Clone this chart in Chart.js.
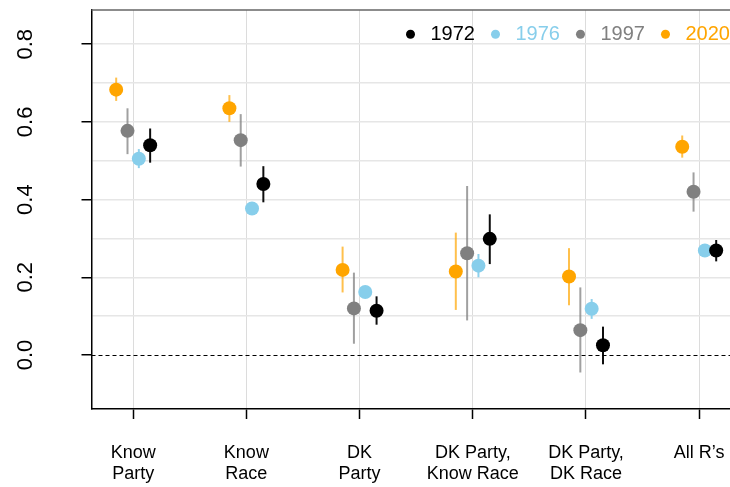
<!DOCTYPE html>
<html>
<head>
<meta charset="utf-8">
<script src="https://cdn.jsdelivr.net/npm/chart.js@4.4.1/dist/chart.umd.min.js"></script>
<style>
  html, body { margin: 0; padding: 0; background: #ffffff; overflow: hidden; }
  canvas { display: block; }
</style>
</head>
<body>
<canvas id="chart" width="730" height="487"></canvas>
<script>
// Groups of respondents along the x axis (two-line labels)
const categories = [
  ["Know", "Party"],
  ["Know", "Race"],
  ["DK", "Party"],
  ["DK Party,", "Know Race"],
  ["DK Party,", "DK Race"],
  ["All R’s"]
];

// Survey years, their colours and horizontal dodge within a group
const years = ["1972", "1976", "1997", "2020"];
const yearColors = ["#000000", "#87CEEB", "#808080", "#FFA500"];
const intervalColors = ["rgba(0,0,0,0.95)", "rgba(135,206,235,0.95)", "rgba(128,128,128,0.75)", "rgba(255,165,0,0.7)"];
const dodge = [0.15, 0.05, -0.05, -0.15];

// Point estimates and interval bounds, one value per group
const est1972 = [0.540, 0.440, 0.114, 0.299, 0.025, 0.269];
const low1972 = [0.495, 0.393, 0.078, 0.234, -0.024, 0.241];
const high1972 = [0.583, 0.486, 0.151, 0.362, 0.073, 0.296];

const est1976 = [0.505, 0.377, 0.162, 0.230, 0.119, 0.269];
const low1976 = [0.481, 0.362, 0.147, 0.200, 0.093, 0.257];
const high1976 = [0.530, 0.392, 0.177, 0.260, 0.144, 0.281];

const est1997 = [0.577, 0.553, 0.120, 0.262, 0.064, 0.420];
const low1997 = [0.517, 0.485, 0.029, 0.089, -0.045, 0.369];
const high1997 = [0.635, 0.620, 0.212, 0.435, 0.174, 0.470];

const est2020 = [0.683, 0.635, 0.219, 0.215, 0.202, 0.536];
const low2020 = [0.654, 0.600, 0.161, 0.116, 0.128, 0.508];
const high2020 = [0.714, 0.669, 0.279, 0.315, 0.275, 0.565];

const estimates = [est1972, est1976, est1997, est2020];
const lows = [low1972, low1976, low1997, low2020];
const highs = [high1972, high1976, high1997, high2020];

// Y axis: light grid every 0.1, labelled ticks every 0.2
const yGridValues = [0.0, 0.1, 0.2, 0.3, 0.4, 0.5, 0.6, 0.7, 0.8];
const yTickValues = [0.0, 0.2, 0.4, 0.6, 0.8];
const yTickLabels = ["0.0", "0.2", "0.4", "0.6", "0.8"];

const FONT = '"Liberation Sans", Arial, Helvetica, sans-serif';
Chart.defaults.font.family = FONT;

const isLabelled = v => yTickValues.some(t => Math.abs(t - v) < 1e-9);

// Vertical interval segments behind the points
const intervalPlugin = {
  id: 'intervals',
  beforeDatasetsDraw(chart) {
    const { ctx, scales: { x, y }, chartArea } = chart;
    ctx.save();
    // dashed reference line at zero
    ctx.strokeStyle = '#000';
    ctx.lineWidth = 1;
    ctx.setLineDash([4, 3]);
    const y0 = Math.round(y.getPixelForValue(0)) + 0.5;
    ctx.beginPath();
    ctx.moveTo(chartArea.left, y0);
    ctx.lineTo(chartArea.right, y0);
    ctx.stroke();
    ctx.setLineDash([]);
    // top frame line
    ctx.strokeStyle = '#666';
    ctx.lineWidth = 1.5;
    ctx.beginPath();
    ctx.moveTo(chartArea.left, chartArea.top);
    ctx.lineTo(chartArea.right, chartArea.top);
    ctx.stroke();
    // intervals
    for (let s = chart.data.datasets.length - 1; s >= 0; s--) {
      const ds = chart.data.datasets[s];
      ctx.strokeStyle = ds.intervalColor;
      ctx.lineWidth = 2;
      ds.data.forEach((pt, i) => {
        const px = x.getPixelForValue(pt.x);
        ctx.beginPath();
        ctx.moveTo(px, y.getPixelForValue(ds.lower[i]));
        ctx.lineTo(px, y.getPixelForValue(ds.upper[i]));
        ctx.stroke();
      });
    }
    ctx.restore();
  }
};

// Rotated y tick labels and the in-plot year key
const annotationPlugin = {
  id: 'annotations',
  afterDraw(chart) {
    const { ctx, scales: { y }, chartArea } = chart;
    ctx.save();
    ctx.fillStyle = '#000';
    ctx.font = '22px ' + FONT;
    ctx.textAlign = 'center';
    ctx.textBaseline = 'alphabetic';
    yTickValues.forEach((v, k) => {
      const py = y.getPixelForValue(v);
      ctx.save();
      ctx.translate(chartArea.left - 59.5, py);
      ctx.rotate(-Math.PI / 2);
      ctx.fillText(yTickLabels[k], 0, 0);
      ctx.restore();
    });

    ctx.font = '20px ' + FONT;
    ctx.textAlign = 'left';
    ctx.textBaseline = 'middle';
    let cx = chartArea.left + 319;
    const cy = chartArea.top + 24.3;
    years.forEach((yr, s) => {
      ctx.fillStyle = yearColors[s];
      ctx.beginPath();
      ctx.arc(cx, cy, 4.5, 0, Math.PI * 2);
      ctx.fill();
      ctx.fillText(yr, cx + 20, cy);
      cx += 20 + ctx.measureText(yr).width + 20.5;
    });
    ctx.restore();
  }
};

new Chart(document.getElementById('chart'), {
  type: 'scatter',
  data: {
    datasets: years.map((yr, s) => ({
      label: yr,
      data: estimates[s].map((v, i) => ({ x: i + 1 + dodge[s], y: v })),
      lower: lows[s],
      upper: highs[s],
      intervalColor: intervalColors[s],
      backgroundColor: yearColors[s],
      borderColor: yearColors[s],
      borderWidth: 0,
      pointRadius: 7,
      pointHoverRadius: 7
    }))
  },
  options: {
    responsive: false,
    animation: false,
    devicePixelRatio: 1,
    layout: { autoPadding: false, padding: { top: 10, left: 0, right: 0, bottom: 0 } },
    plugins: {
      legend: { display: false },
      tooltip: { enabled: false }
    },
    scales: {
      x: {
        type: 'linear',
        min: 0.632,
        max: 6.272,
        afterBuildTicks: s => { s.ticks = categories.map((_, i) => ({ value: i + 1 })); },
        afterFit: s => { s.height = 78; s.paddingLeft = 0; s.paddingRight = 0; },
        ticks: {
          callback: (v, i) => categories[i],
          autoSkip: false,
          maxRotation: 0,
          minRotation: 0,
          color: '#000',
          padding: 23,
          font: { size: 18, lineHeight: 1.2 }
        },
        grid: {
          color: '#dcdcdc',
          lineWidth: 1,
          tickLength: 10,
          tickColor: '#000',
          tickWidth: 1.5
        },
        border: { color: '#000', width: 1.5 }
      },
      y: {
        type: 'linear',
        min: -0.139,
        max: 0.888,
        afterBuildTicks: s => { s.ticks = yGridValues.map(v => ({ value: v })); },
        afterFit: s => { s.width = 91.5; s.paddingTop = 0; s.paddingBottom = 0; },
        ticks: { display: false },
        grid: {
          color: c => (c.tick && Math.abs(c.tick.value) < 1e-9) ? 'rgba(0,0,0,0)' : '#e6e6e6',
          lineWidth: 1.5,
          tickLength: 10,
          tickColor: c => (c.tick && isLabelled(c.tick.value)) ? '#000' : 'rgba(0,0,0,0)',
          tickWidth: 1.5
        },
        border: { color: '#000', width: 1.5 }
      }
    }
  },
  plugins: [intervalPlugin, annotationPlugin]
});
</script>
</body>
</html>
